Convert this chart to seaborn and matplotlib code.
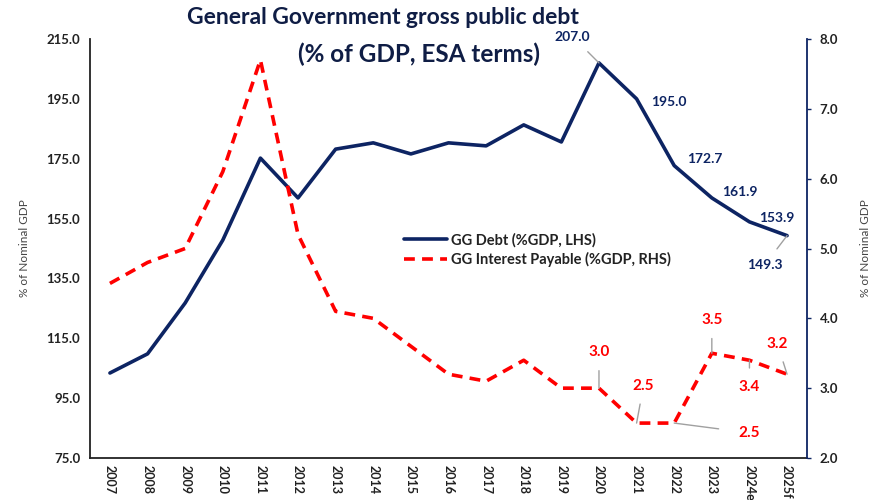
import seaborn as sns
import matplotlib.pyplot as plt
import numpy as np
import pandas as pd

years = ['2007', '2008', '2009', '2010', '2011', '2012', '2013', '2014', '2015', '2016',
         '2017', '2018', '2019', '2020', '2021', '2022', '2023', '2024e', '2025f']
debt = [103.4, 109.8, 126.8, 147.8, 175.2, 161.9, 178.2, 180.3, 176.6, 180.3,
        179.3, 186.3, 180.6, 207.0, 195.0, 172.7, 161.9, 153.9, 149.3]
interest = [4.5, 4.8, 5.0, 6.1, 7.7, 5.2, 4.1, 4.0, 3.6, 3.2,
            3.1, 3.4, 3.0, 3.0, 2.5, 2.5, 3.5, 3.4, 3.2]

navy = '#0d2463'
red = '#ff0000'

sns.set_theme(style="white")
plt.rcParams['font.family'] = ['Lato', 'DejaVu Sans']

df = pd.DataFrame({'pos': np.arange(len(years)), 'Year': years,
                   'Debt': debt, 'Interest': interest})

fig = plt.figure(figsize=(8.83, 5.0), dpi=100)
ax = fig.add_axes([90 / 883, 42 / 500, 717 / 883, 419 / 500])
ax2 = ax.twinx()

sns.lineplot(data=df, x='pos', y='Debt', ax=ax, color=navy, linewidth=2.6,
             label='GG Debt (%GDP, LHS)', legend=False)
sns.lineplot(data=df, x='pos', y='Interest', ax=ax2, color=red, linewidth=2.6,
             label='GG Interest Payable (%GDP, RHS)', legend=False)
ax2.lines[0].set_dashes((3, 2))

ax.set_xlim(-0.53, len(years) - 1 + 0.53)
ax.set_ylim(75, 215)
ax2.set_ylim(2, 8)
ax.set_yticks(np.arange(75, 216, 20))
ax.set_yticklabels([f'{v:.1f}' for v in np.arange(75, 216, 20)])
ax2.set_yticks(np.arange(2, 8.1, 1))
ax2.set_yticklabels([f'{v:.1f}' for v in np.arange(2, 8.1, 1)])
ax.set_xticks(df['pos'])
ax.set_xticklabels(years, rotation=270, fontsize=9, fontweight='bold', color='#222222')

for s in ['top', 'right']:
    ax.spines[s].set_visible(False)
for s in ['top', 'left', 'bottom']:
    ax2.spines[s].set_visible(False)
ax.spines['left'].set_color('#222222')
ax.spines['bottom'].set_color('#222222')
ax.spines['left'].set_linewidth(1.3)
ax.spines['bottom'].set_linewidth(1.3)
ax2.spines['right'].set_color(navy)
ax2.spines['right'].set_linewidth(1.3)

ax.tick_params(axis='y', length=0, pad=7, labelsize=9.5, labelcolor='#222222')
ax.tick_params(axis='x', length=0, pad=5)
ax2.tick_params(axis='y', length=3, width=1, color=navy, pad=6, labelsize=9.5,
                labelcolor='#222222', right=True)
for t in ax.get_yticklabels() + ax2.get_yticklabels():
    t.set_fontweight('bold')

ax.set_xlabel('')
ax.set_ylabel('% of Nominal GDP', fontsize=8.5, color='#444444', labelpad=12)
ax2.set_ylabel('% of Nominal GDP', fontsize=8.5, color='#444444', labelpad=16)

# data labels
gray = '#a0a0a0'
ann_b = dict(color=navy, fontsize=10, fontweight='bold', ha='center', va='center')
ann_r = dict(color=red, fontsize=11, fontweight='bold', ha='center', va='center')
arrow = dict(arrowstyle='-', color=gray, lw=1, shrinkA=6, shrinkB=0)

ax.annotate('207.0', xy=(13, debt[13]), xytext=(-19, 19), textcoords='offset points',
            arrowprops=arrow, **ann_b)
ax.annotate('195.0', xy=(14, debt[14]), xytext=(23, -2), textcoords='offset points', **ann_b)
ax.annotate('172.7', xy=(15, debt[15]), xytext=(22, 5), textcoords='offset points', **ann_b)
ax.annotate('161.9', xy=(16, debt[16]), xytext=(20, 4), textcoords='offset points', **ann_b)
ax.annotate('153.9', xy=(17, debt[17]), xytext=(20, 3), textcoords='offset points', **ann_b)
ax.annotate('149.3', xy=(18, debt[18]), xytext=(-16, -21), textcoords='offset points',
            arrowprops=arrow, **ann_b)

ax2.annotate('3.0', xy=(13, interest[13]), xytext=(0, 26), textcoords='offset points',
             arrowprops=arrow, **ann_r)
ax2.annotate('2.5', xy=(14, interest[14]), xytext=(5, 27), textcoords='offset points',
             arrowprops=arrow, **ann_r)
ax2.annotate('2.5', xy=(15, interest[15]), xytext=(54, -7), textcoords='offset points',
             arrowprops=dict(arrowstyle='-', color=gray, lw=1, shrinkA=12, shrinkB=0), **ann_r)
ax2.annotate('3.5', xy=(16, interest[16]), xytext=(0, 24), textcoords='offset points',
             arrowprops=arrow, **ann_r)
ax2.annotate('3.4', xy=(17, interest[17]), xytext=(0, -19), textcoords='offset points',
             arrowprops=arrow, **ann_r)
ax2.annotate('3.2', xy=(18, interest[18]), xytext=(-7, 22), textcoords='offset points',
             arrowprops=arrow, **ann_r)

handles = ax.get_lines()[:1] + ax2.get_lines()[:1]
leg = ax.legend(handles, [h.get_label() for h in handles], loc='center left',
                bbox_to_anchor=(0.42, 0.497), frameon=False, fontsize=10.5,
                handlelength=2.9, handletextpad=0.3, labelspacing=0.3)
for t in leg.get_texts():
    t.set_fontweight('bold')
    t.set_color('#222222')

title_color = '#0f1d45'
fig.text(383 / 883, 1 - 17 / 500, 'General Government gross public debt',
         ha='center', va='center', fontsize=16.5, fontweight='bold', color=title_color)
fig.text(419 / 883, 1 - 54 / 500, '(% of GDP, ESA terms)',
         ha='center', va='center', fontsize=17.5, fontweight='bold', color=title_color)

fig.savefig('out.png', dpi=100)
